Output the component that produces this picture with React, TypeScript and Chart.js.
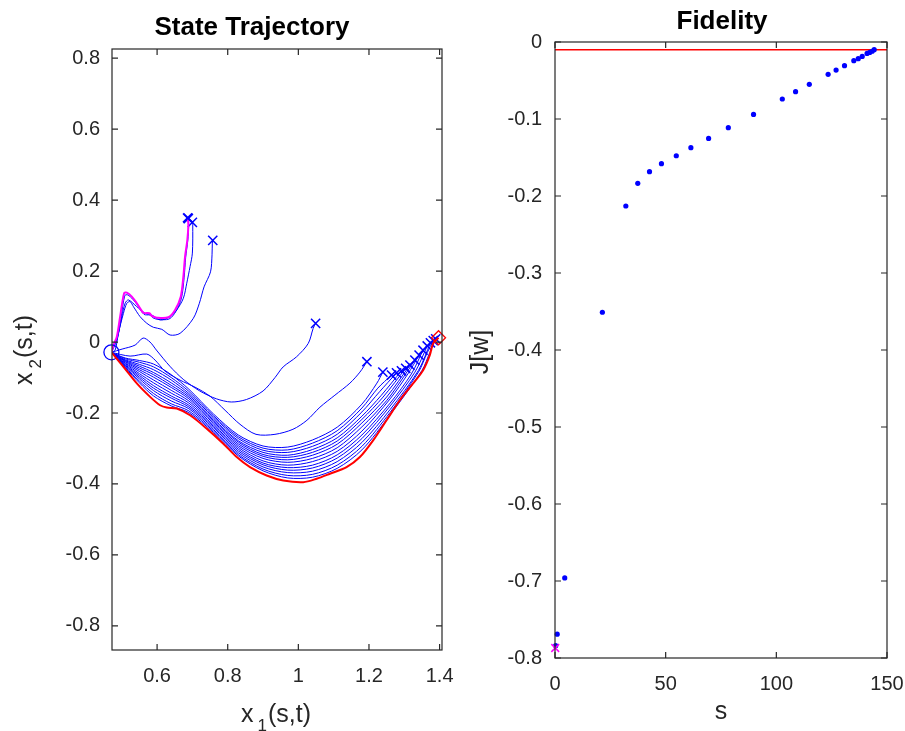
import React, { useEffect, useRef } from "react";
import { Chart, registerables } from "chart.js";

Chart.register(...registerables);

type Pt = [number, number];

// ---------------- State trajectory data (x1, x2) ----------------
const START_STATE: Pt = [0.4706, -0.029];
const TARGET_STATE: Pt = [1.397, 0.012];

const TRAJ_INITIAL: Pt[] = [
  [0.4706, -0.029], [0.478, -0.005], [0.486, 0.015], [0.4953, 0.0715], [0.5066, 0.1377],
  [0.5143, 0.1394], [0.5284, 0.128], [0.5426, 0.1094], [0.5612, 0.0828], [0.5782, 0.0811],
  [0.585, 0.0735], [0.5992, 0.0687], [0.632, 0.0698], [0.6509, 0.0905], [0.667, 0.128],
  [0.6744, 0.1846], [0.6792, 0.2411], [0.6857, 0.2883], [0.6885, 0.3307], [0.6868, 0.3497],
];
const TRAJ_A: Pt[] = [
  [0.4706, -0.029], [0.479, -0.006], [0.488, 0.012], [0.4975, 0.066], [0.5085, 0.131],
  [0.5165, 0.133], [0.531, 0.121], [0.545, 0.103], [0.563, 0.078], [0.58, 0.076],
  [0.587, 0.069], [0.601, 0.064], [0.634, 0.065], [0.653, 0.086], [0.669, 0.124],
  [0.6765, 0.181], [0.681, 0.239], [0.687, 0.287], [0.6895, 0.33], [0.6885, 0.348],
];
const TRAJ_B: Pt[] = [
  [0.4706, -0.029], [0.482, -0.005], [0.4925, 0.0339], [0.5001, 0.0715], [0.5095, 0.1094],
  [0.5188, 0.1187], [0.5426, 0.0998], [0.5661, 0.0811], [0.585, 0.0763], [0.6085, 0.0622],
  [0.6368, 0.0715], [0.6557, 0.0905], [0.6744, 0.1235], [0.684, 0.1659], [0.6934, 0.2129],
  [0.6999, 0.2507], [0.701, 0.3307], [0.6999, 0.3372],
];
const TRAJ_C: Pt[] = [
  [0.4706, -0.029], [0.4812, -0.0226], [0.4905, 0.0246], [0.5047, 0.0811], [0.5143, 0.1094],
  [0.5236, 0.1139], [0.533, 0.0998], [0.5519, 0.0715], [0.5709, 0.0529], [0.5895, 0.0416],
  [0.6133, 0.0359], [0.6368, 0.0198], [0.6651, 0.0246], [0.7027, 0.067], [0.7197, 0.1094],
  [0.733, 0.1555], [0.7513, 0.1979], [0.7556, 0.2459], [0.7564, 0.279], [0.7576, 0.2864],
];
const TRAJ_D: Pt[] = [
  [0.4706, -0.029], [0.501, -0.0198], [0.5378, -0.0085], [0.5604, 0.0113], [0.58, 0.0],
  [0.598, -0.0226], [0.636, -0.068], [0.674, -0.105], [0.721, -0.138], [0.768, -0.16],
  [0.81, -0.169], [0.853, -0.162], [0.9, -0.138], [0.934, -0.1], [0.957, -0.07],
  [0.995, -0.0415], [1.028, -0.004], [1.042, 0.0387], [1.0489, 0.0528],
];
const TRAJ_E: Pt[] = [
  [0.4706, -0.029], [0.5236, -0.0396], [0.5709, -0.0339], [0.5943, -0.0509], [0.6226, -0.082],
  [0.6651, -0.1074], [0.7075, -0.1272], [0.7499, -0.1526], [0.7924, -0.1922], [0.8348, -0.2318],
  [0.8801, -0.2601], [0.9338, -0.2601], [0.9847, -0.2459], [1.0243, -0.2205], [1.0611, -0.1837],
  [1.1035, -0.1498], [1.146, -0.1159], [1.1743, -0.0848], [1.1941, -0.0555],
];
const TRAJ_F: Pt[] = [
  [0.4706, -0.029], [0.51, -0.045], [0.55, -0.052], [0.59, -0.062], [0.64, -0.092],
  [0.69, -0.133], [0.76, -0.203], [0.83, -0.262], [0.9, -0.293], [0.97, -0.296],
  [1.04, -0.276], [1.11, -0.24], [1.18, -0.175], [1.2224, -0.1159], [1.2393, -0.0848],
];
const BUNDLE_01: Pt[] = [[0.4706, -0.029], [0.51, -0.047], [0.55, -0.057], [0.59, -0.07], [0.64, -0.1], [0.69, -0.139], [0.76, -0.208], [0.83, -0.267], [0.9, -0.299], [0.97, -0.304], [1.04, -0.285], [1.11, -0.25], [1.18, -0.186], [1.225, -0.13], [1.264, -0.093]];
const BUNDLE_02: Pt[] = [[0.4706, -0.029], [0.51, -0.05], [0.55, -0.063], [0.59, -0.078], [0.64, -0.107], [0.69, -0.145], [0.76, -0.212], [0.83, -0.272], [0.9, -0.305], [0.97, -0.311], [1.04, -0.294], [1.11, -0.26], [1.18, -0.197], [1.23, -0.14], [1.278, -0.087]];
const BUNDLE_03: Pt[] = [[0.4706, -0.029], [0.51, -0.052], [0.55, -0.068], [0.59, -0.086], [0.64, -0.115], [0.69, -0.15], [0.76, -0.217], [0.83, -0.278], [0.9, -0.311], [0.97, -0.319], [1.04, -0.303], [1.11, -0.27], [1.18, -0.209], [1.235, -0.15], [1.292, -0.081]];
const BUNDLE_04: Pt[] = [[0.4706, -0.029], [0.51, -0.054], [0.55, -0.073], [0.59, -0.092], [0.64, -0.122], [0.69, -0.155], [0.76, -0.221], [0.83, -0.282], [0.9, -0.317], [0.97, -0.325], [1.04, -0.311], [1.11, -0.279], [1.18, -0.218], [1.24, -0.155], [1.304, -0.074]];
const BUNDLE_05: Pt[] = [[0.4706, -0.029], [0.51, -0.056], [0.55, -0.078], [0.59, -0.099], [0.64, -0.128], [0.69, -0.16], [0.76, -0.225], [0.83, -0.287], [0.9, -0.322], [0.97, -0.332], [1.04, -0.319], [1.11, -0.288], [1.18, -0.228], [1.25, -0.155], [1.316, -0.065]];
const BUNDLE_06: Pt[] = [[0.4706, -0.029], [0.51, -0.059], [0.55, -0.083], [0.59, -0.107], [0.64, -0.136], [0.69, -0.166], [0.76, -0.229], [0.83, -0.292], [0.9, -0.328], [0.97, -0.339], [1.04, -0.328], [1.11, -0.298], [1.18, -0.239], [1.25, -0.165], [1.29, -0.11], [1.33, -0.051]];
const BUNDLE_07: Pt[] = [[0.4706, -0.029], [0.51, -0.061], [0.55, -0.089], [0.59, -0.115], [0.64, -0.144], [0.69, -0.172], [0.76, -0.234], [0.83, -0.297], [0.9, -0.335], [0.97, -0.347], [1.04, -0.337], [1.11, -0.308], [1.18, -0.251], [1.26, -0.16], [1.31, -0.09], [1.342, -0.037]];
const BUNDLE_08: Pt[] = [[0.4706, -0.029], [0.51, -0.064], [0.55, -0.094], [0.59, -0.123], [0.64, -0.152], [0.69, -0.178], [0.76, -0.238], [0.83, -0.302], [0.9, -0.341], [0.97, -0.354], [1.04, -0.347], [1.11, -0.318], [1.18, -0.262], [1.26, -0.172], [1.32, -0.09], [1.353, -0.023]];
const BUNDLE_09: Pt[] = [[0.4706, -0.029], [0.51, -0.066], [0.55, -0.099], [0.59, -0.13], [0.64, -0.158], [0.69, -0.183], [0.76, -0.242], [0.83, -0.307], [0.9, -0.346], [0.97, -0.361], [1.04, -0.355], [1.11, -0.327], [1.18, -0.272], [1.26, -0.18], [1.33, -0.085], [1.365, -0.011]];
const BUNDLE_10: Pt[] = [[0.4706, -0.029], [0.51, -0.068], [0.55, -0.104], [0.59, -0.137], [0.64, -0.166], [0.69, -0.188], [0.76, -0.247], [0.83, -0.312], [0.9, -0.352], [0.97, -0.368], [1.04, -0.364], [1.11, -0.337], [1.18, -0.283], [1.26, -0.19], [1.34, -0.08], [1.374, -0.002]];
const BUNDLE_11: Pt[] = [[0.4706, -0.029], [0.51, -0.071], [0.55, -0.11], [0.59, -0.145], [0.64, -0.174], [0.69, -0.194], [0.76, -0.251], [0.83, -0.317], [0.9, -0.358], [0.97, -0.376], [1.04, -0.373], [1.11, -0.347], [1.18, -0.294], [1.26, -0.198], [1.34, -0.085], [1.365, -0.03], [1.382, 0.004]];
const BUNDLE_12: Pt[] = [[0.4706, -0.029], [0.51, -0.073], [0.55, -0.115], [0.59, -0.152], [0.64, -0.18], [0.69, -0.199], [0.76, -0.255], [0.83, -0.321], [0.9, -0.363], [0.97, -0.383], [1.04, -0.381], [1.11, -0.356], [1.18, -0.304], [1.26, -0.205], [1.35, -0.08], [1.372, -0.03], [1.389, 0.009]];
const TRAJ_FINAL: Pt[] = [
  [0.4706, -0.029], [0.5047, -0.0698], [0.5426, -0.1167], [0.5802, -0.1545], [0.6085, -0.1781],
  [0.6274, -0.1846], [0.6557, -0.1874], [0.6934, -0.2064], [0.7406, -0.244], [0.7876, -0.2864],
  [0.8255, -0.3242], [0.8631, -0.3525], [0.9103, -0.376], [0.9573, -0.3901], [1.0139, -0.3949],
  [1.0518, -0.3853], [1.0894, -0.3712], [1.1366, -0.3525], [1.1743, -0.3242], [1.2119, -0.277],
  [1.2498, -0.2205], [1.2874, -0.164], [1.325, -0.1167], [1.3533, -0.0792], [1.3723, -0.0367],
  [1.3816, -0.0037], [1.397, 0.012],
];

const BLUE_TRAJECTORIES: Pt[][] = [
  TRAJ_A, TRAJ_B, TRAJ_C, TRAJ_D, TRAJ_E, TRAJ_F,
  BUNDLE_01, BUNDLE_02, BUNDLE_03, BUNDLE_04, BUNDLE_05, BUNDLE_06,
  BUNDLE_07, BUNDLE_08, BUNDLE_09, BUNDLE_10, BUNDLE_11, BUNDLE_12,
];

const X1_TICKS = [0.6, 0.8, 1, 1.2, 1.4];
const X2_TICKS = [-0.8, -0.6, -0.4, -0.2, 0, 0.2, 0.4, 0.6, 0.8];
const X1_MIN = 0.4723;
const X1_MAX = 1.4068;
const X2_MIN = -0.868;
const X2_MAX = 0.826;

// ---------------- Fidelity data ----------------
const ITER_S = [0.3, 1.0, 4.4, 21.4, 32.0, 37.4, 42.7, 48.1, 54.8, 61.4, 69.4, 78.3, 89.7, 102.7, 108.7, 114.9, 123.4, 127.0, 130.8, 135.0, 137.0, 138.8, 141.0, 142.2, 143.3, 144.2];
const FIDELITY_J = [-0.784, -0.769, -0.696, -0.351, -0.213, -0.1836, -0.1684, -0.158, -0.1477, -0.1373, -0.1252, -0.1113, -0.094, -0.074, -0.0645, -0.055, -0.042, -0.0364, -0.0308, -0.0243, -0.0217, -0.0187, -0.0148, -0.0135, -0.012, -0.01];
const TARGET_J = -0.01;
const INITIAL_S = 0.1;
const INITIAL_J = -0.787;
const S_TICKS = [0, 50, 100, 150];
const J_TICKS = [-0.8, -0.7, -0.6, -0.5, -0.4, -0.3, -0.2, -0.1, 0];
const S_MIN = 0;
const S_MAX = 150;
const J_MIN = -0.8;
const J_MAX = 0;

// ---------------- styling helpers ----------------
const FONT = "'Liberation Sans', Arial, Helvetica, sans-serif";
const AXIS_COLOR = "#262626";
const BLUE = "#0000ff";
const RED = "#ff0000";
const MAGENTA = "#ff00ff";

const toXY = (pts: Pt[]) => pts.map(([x, y]) => ({ x, y }));
const fmt = (v: number) => String(Math.round(v * 100) / 100);

const lastOnly = (r: number) => (ctx: any) =>
  ctx.dataIndex === ctx.dataset.data.length - 1 ? r : 0;

type Label = { main: string; sub?: string; rest?: string };

function drawLabel(ctx: CanvasRenderingContext2D, lab: Label, cx: number, cy: number, rotate: boolean, size: number, subSize: number, subShift: number) {
  ctx.save();
  ctx.translate(cx, cy);
  if (rotate) ctx.rotate(-Math.PI / 2);
  ctx.fillStyle = AXIS_COLOR;
  ctx.textBaseline = "middle";
  ctx.textAlign = "left";
  const mainFont = `${size}px ${FONT}`;
  const subFont = `${subSize}px ${FONT}`;
  ctx.font = mainFont;
  const wMain = ctx.measureText(lab.main).width;
  const wRest = lab.rest ? ctx.measureText(lab.rest).width : 0;
  ctx.font = subFont;
  const wSub = lab.sub ? ctx.measureText(lab.sub).width : 0;
  const gap1 = lab.sub ? 4 : 0;
  const gap2 = lab.sub ? 1 : 0;
  const total = wMain + gap1 + wSub + gap2 + wRest;
  let x = -total / 2;
  ctx.font = mainFont;
  ctx.fillText(lab.main, x, 0);
  x += wMain + gap1;
  if (lab.sub) {
    ctx.font = subFont;
    ctx.fillText(lab.sub, x, subShift);
    x += wSub + gap2;
  }
  if (lab.rest) {
    ctx.font = mainFont;
    ctx.fillText(lab.rest, x, 0);
  }
  ctx.restore();
}

type FrameCfg = {
  key: string;
  xTicks: number[];
  yTicks: number[];
  title: string;
  titleX: number;
  titleY: number;
  xLabel: Label;
  xLabelX: number;
  xLabelY: number;
  yLabel: Label;
  yLabelX: number;
  yLabelY: number;
};

function framePlugin(cfg: FrameCfg) {
  return {
    id: "frame_" + cfg.key,
    afterDatasetsDraw(chart: any) {
      const { ctx, chartArea: a, scales } = chart;
      const xs = scales.x;
      const ys = scales.y;
      ctx.save();
      ctx.strokeStyle = AXIS_COLOR;
      ctx.lineWidth = 1.2;
      ctx.strokeRect(a.left, a.top, a.right - a.left, a.bottom - a.top);
      const tl = 6;
      ctx.beginPath();
      cfg.xTicks.forEach((v) => {
        const p = xs.getPixelForValue(v);
        ctx.moveTo(p, a.bottom);
        ctx.lineTo(p, a.bottom - tl);
        ctx.moveTo(p, a.top);
        ctx.lineTo(p, a.top + tl);
      });
      cfg.yTicks.forEach((v) => {
        const p = ys.getPixelForValue(v);
        ctx.moveTo(a.left, p);
        ctx.lineTo(a.left + tl, p);
        ctx.moveTo(a.right, p);
        ctx.lineTo(a.right - tl, p);
      });
      ctx.stroke();
      ctx.restore();
    },
    afterDraw(chart: any) {
      const ctx = chart.ctx as CanvasRenderingContext2D;
      ctx.save();
      ctx.fillStyle = "#000000";
      ctx.font = `bold 26px ${FONT}`;
      ctx.textAlign = "center";
      ctx.textBaseline = "middle";
      ctx.fillText(cfg.title, cfg.titleX, cfg.titleY);
      ctx.restore();
      drawLabel(ctx, cfg.xLabel, cfg.xLabelX, cfg.xLabelY, false, 25, 17, 11);
      drawLabel(ctx, cfg.yLabel, cfg.yLabelX, cfg.yLabelY, true, 25, 17, 11);
    },
  };
}

function axisScale(min: number, max: number, ticks: number[], pad: number, fit: (s: any) => void) {
  return {
    type: "linear" as const,
    min,
    max,
    grid: { display: false, drawTicks: false },
    border: { display: false },
    ticks: {
      font: { family: FONT, size: 20 },
      color: AXIS_COLOR,
      padding: pad,
      autoSkip: false,
      maxRotation: 0,
      callback: (v: any) => fmt(Number(v)),
    },
    afterBuildTicks: (s: any) => {
      s.ticks = ticks.map((value) => ({ value }));
    },
    afterFit: (s: any) => {
      fit(s);
      s.paddingLeft = 0;
      s.paddingRight = 0;
      s.paddingTop = 0;
      s.paddingBottom = 0;
    },
  };
}

function TrajectoryChart() {
  const ref = useRef<HTMLCanvasElement | null>(null);
  useEffect(() => {
    if (!ref.current) return;
    const blueSets = BLUE_TRAJECTORIES.map((tr, i) => ({
      data: toXY(tr),
      showLine: true,
      borderColor: BLUE,
      borderWidth: 1,
      tension: 0.3,
      pointStyle: "crossRot" as const,
      pointRadius: lastOnly(6.5),
      pointBorderColor: BLUE,
      pointBackgroundColor: BLUE,
      pointBorderWidth: 1.5,
      order: 3 + i,
    }));
    const chart = new Chart(ref.current, {
      type: "scatter",
      data: {
        datasets: [
          {
            data: toXY(TRAJ_FINAL),
            showLine: true,
            borderColor: RED,
            borderWidth: 2,
            tension: 0.3,
            pointRadius: 0,
            order: 0,
          },
          {
            data: toXY(TRAJ_INITIAL),
            showLine: true,
            borderColor: MAGENTA,
            borderWidth: 2,
            tension: 0.3,
            pointStyle: "crossRot",
            pointRadius: lastOnly(6.5),
            pointBorderColor: BLUE,
            pointBorderWidth: 2,
            order: 1,
          },
          ...blueSets,
          {
            data: [{ x: START_STATE[0], y: START_STATE[1] }],
            pointStyle: "circle",
            pointRadius: 7.5,
            borderColor: BLUE,
            backgroundColor: "rgba(0,0,0,0)",
            borderWidth: 1.3,
            clip: false,
            order: 0,
          },
          {
            data: [{ x: TARGET_STATE[0], y: TARGET_STATE[1] }],
            pointStyle: "rectRot",
            pointRadius: 7,
            borderColor: RED,
            backgroundColor: "rgba(0,0,0,0)",
            borderWidth: 1.3,
            clip: false,
            order: 0,
          },
        ] as any,
      },
      options: {
        animation: false,
        responsive: false,
        maintainAspectRatio: false,
        events: [],
        layout: { padding: { top: 49, right: 18, left: 0, bottom: 0 } },
        plugins: { legend: { display: false }, tooltip: { enabled: false } },
        scales: {
          x: axisScale(X1_MIN, X1_MAX, X1_TICKS, 14, (s: any) => { s.height = 81; }),
          y: axisScale(X2_MIN, X2_MAX, X2_TICKS, 12, (s: any) => { s.width = 112; }),
        } as any,
      },
      plugins: [
        framePlugin({
          key: "traj",
          xTicks: X1_TICKS,
          yTicks: X2_TICKS,
          title: "State Trajectory",
          titleX: 252,
          titleY: 28,
          xLabel: { main: "x", sub: "1", rest: "(s,t)" },
          xLabelX: 276,
          xLabelY: 715,
          yLabel: { main: "x", sub: "2", rest: "(s,t)" },
          yLabelX: 25,
          yLabelY: 350,
        }),
      ],
    });
    return () => chart.destroy();
  }, []);
  return <canvas ref={ref} width={460} height={731} style={{ position: "absolute", left: 0, top: 0, width: 460, height: 731 }} />;
}

function FidelityChart() {
  const ref = useRef<HTMLCanvasElement | null>(null);
  useEffect(() => {
    if (!ref.current) return;
    const points = ITER_S.map((s, i) => ({ x: s, y: FIDELITY_J[i] }));
    const chart = new Chart(ref.current, {
      type: "scatter",
      data: {
        datasets: [
          {
            data: [{ x: INITIAL_S, y: INITIAL_J }],
            pointStyle: "crossRot",
            pointRadius: 5.5,
            borderColor: MAGENTA,
            borderWidth: 1.5,
            clip: false,
            order: 0,
          },
          {
            data: points,
            pointStyle: "circle",
            pointRadius: 2.6,
            backgroundColor: BLUE,
            borderColor: BLUE,
            borderWidth: 0,
            clip: false,
            order: 1,
          },
          {
            data: [{ x: S_MIN, y: TARGET_J }, { x: S_MAX, y: TARGET_J }],
            showLine: true,
            borderColor: RED,
            borderWidth: 1.5,
            pointRadius: 0,
            order: 2,
          },
        ] as any,
      },
      options: {
        animation: false,
        responsive: false,
        maintainAspectRatio: false,
        events: [],
        layout: { padding: { top: 42, right: 18, left: 0, bottom: 0 } },
        plugins: { legend: { display: false }, tooltip: { enabled: false } },
        scales: {
          x: axisScale(S_MIN, S_MAX, S_TICKS, 14, (s: any) => { s.height = 73; }),
          y: axisScale(J_MIN, J_MAX, J_TICKS, 13, (s: any) => { s.width = 95; }),
        } as any,
      },
      plugins: [
        framePlugin({
          key: "fid",
          xTicks: S_TICKS,
          yTicks: J_TICKS,
          title: "Fidelity",
          titleX: 262,
          titleY: 22,
          xLabel: { main: "s" },
          xLabelX: 261,
          xLabelY: 712,
          yLabel: { main: "J[w]" },
          yLabelX: 21,
          yLabelY: 352,
        }),
      ],
    });
    return () => chart.destroy();
  }, []);
  return <canvas ref={ref} width={445} height={731} style={{ position: "absolute", left: 460, top: 0, width: 445, height: 731 }} />;
}

export default function App() {
  return (
    <div style={{ position: "fixed", left: 0, top: 0, width: 905, height: 731, background: "#ffffff", overflow: "hidden" }}>
      <TrajectoryChart />
      <FidelityChart />
    </div>
  );
}
